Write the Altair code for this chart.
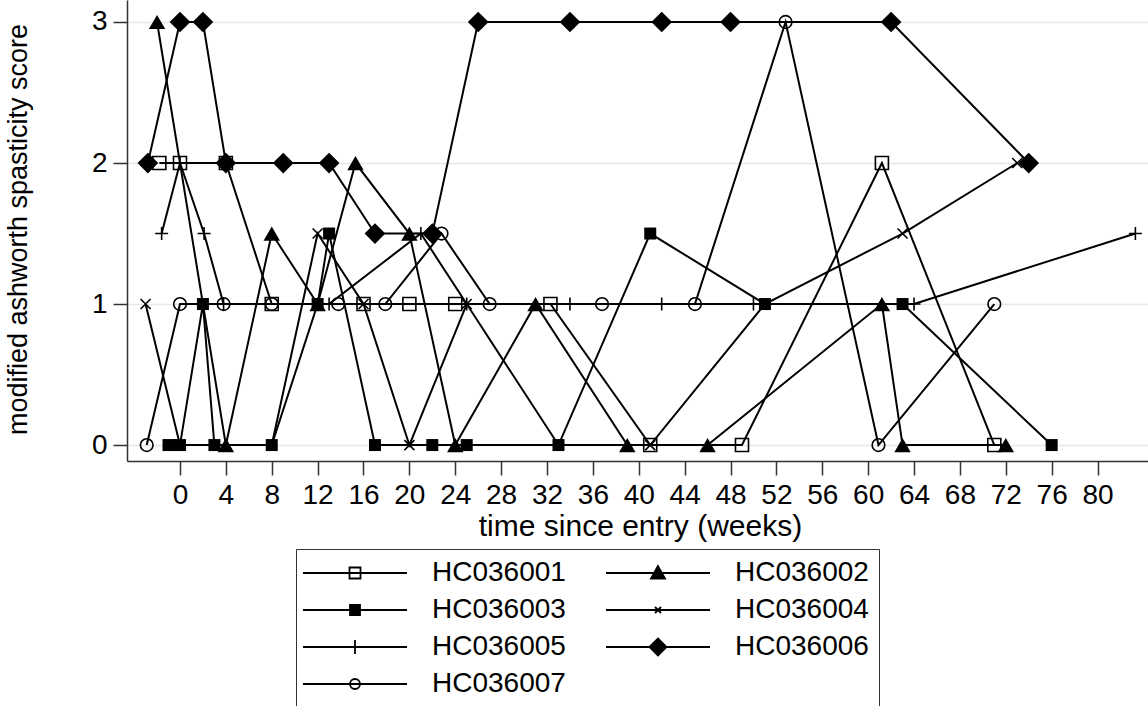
import altair as alt
import pandas as pd

# Visit times (weeks since entry) and modified Ashworth scores per patient
series_names = ["HC036001", "HC036002", "HC036003", "HC036004",
                "HC036005", "HC036006", "HC036007"]

t_001 = [-1.8, 0, 4, 8, 16, 20, 24, 32.3, 41, 49, 61.2, 71]
v_001 = [2, 2, 2, 1, 1, 1, 1, 1, 0, 0, 2, 0]

t_002 = [-2, 4, 8, 12, 15.3, 20, 24, 31, 39, 46, 61.2, 63, 72]
v_002 = [3, 0, 1.5, 1, 2, 1.5, 0, 1, 0, 0, 1, 0, 0]

t_003 = [-1, 0, 2, 3, 8, 12, 13, 17, 22, 25, 33, 41, 51, 63, 76]
v_003 = [0, 0, 1, 0, 0, 1, 1.5, 0, 0, 0, 0, 1.5, 1, 1, 0]

t_004 = [-3, 0, 3, 8, 12, 16, 20, 25, 33, 41, 51, 63, 73]
v_004 = [1, 0, 0, 0, 1.5, 1, 0, 1, 0, 0, 1, 1.5, 2]

t_005 = [-1.6, 0, 2.1, 3.8, 13, 21, 25, 34, 42, 50, 64, 83.3]
v_005 = [1.5, 2, 1.5, 1, 1, 1.5, 1, 1, 1, 1, 1, 1.5]

t_006 = [-2.8, 0, 2, 4, 9, 13, 17, 22, 26, 34, 42, 48, 62, 74]
v_006 = [2, 3, 3, 2, 2, 2, 1.5, 1.5, 3, 3, 3, 3, 3, 2]

t_007 = [-2.9, 0, 3.8, 8, 13.8, 17.9, 22.8, 27, 36.8, 44.9, 52.8, 60.9, 71]
v_007 = [0, 1, 1, 1, 1, 1, 1.5, 1, 1, 1, 3, 0, 1]

x_ticks = list(range(0, 81, 4))
y_ticks = [0, 1, 2, 3]

times = [t_001, t_002, t_003, t_004, t_005, t_006, t_007]
scores = [v_001, v_002, v_003, v_004, v_005, v_006, v_007]

rows = []
for name, ts, vs in zip(series_names, times, scores):
    for order, (t, v) in enumerate(zip(ts, vs)):
        rows.append({"series": name, "week": t, "score": v, "order": order})
df = pd.DataFrame(rows)

FONT = "Liberation Sans"

# Plot markers per patient: (shape, filled, size)
marker_styles = {
    "HC036001": ("square", False, 169),
    "HC036002": ("triangle-up", True, 270),
    "HC036003": ("square", True, 144),
    "HC036004": ("M-1,-1L1,1M-1,1L1,-1", False, 100),
    "HC036005": ("M0,-1L0,1M-1,0L1,0", False, 169),
    "HC036006": ("diamond", True, 430),
    "HC036007": ("circle", False, 160),
}

# Legend keys: connecting line with the marker drawn in its middle (pixel units)
LINE = "M-52,0L52,0"
legend_shapes = [
    LINE + "M-5.5,-5.5L5.5,-5.5L5.5,5.5L-5.5,5.5Z",
    LINE + "M0,-7L-7,5.5L7,5.5Z",
    LINE + "M-5,-5L5,-5L5,5L-5,5Z",
    LINE + "M-3,-3L3,3M-3,3L3,-3",
    LINE + "M0,-7L0,7",
    LINE + "M-8.5,0L0,-8.5L8.5,0L0,8.5Z",
    LINE + "M-5,0A5,5 0 1,0 5,0A5,5 0 1,0 -5,0",
]
legend_fills = ["transparent", "black", "black", "transparent",
                "transparent", "black", "transparent"]
legend_strokes = ["black"] * len(series_names)

x_enc = alt.X("week:Q",
              scale=alt.Scale(domain=[-4.62, 84.4], nice=False, zero=False),
              axis=alt.Axis(values=x_ticks, title="time since entry (weeks)",
                            grid=False, labelPadding=6, titleX=513, titleY=65,
                            titleBaseline="middle", titleAlign="center",
                            titleFontSize=30))
y_enc = alt.Y("score:Q",
              scale=alt.Scale(domain=[-0.113, 3.156], nice=False, zero=False),
              axis=alt.Axis(values=y_ticks, format="d",
                            title="modified ashworth spasticity score",
                            grid=True, labelPadding=6, titleX=-109, titleY=229,
                            titleBaseline="middle", titleAlign="center",
                            titleFontSize=27))

base = alt.Chart(df)

lines = base.mark_line(color="black", strokeWidth=2).encode(
    x=x_enc, y=y_enc, detail="series:N", order="order:Q"
)

point_layers = []
for name in series_names:
    shape, filled, size = marker_styles[name]
    point_layers.append(
        base.transform_filter(alt.datum.series == name).mark_point(
            shape=shape, filled=filled, size=size, opacity=1,
            color="black", strokeWidth=1.6,
        ).encode(x="week:Q", y="score:Q")
    )

legend_spec = alt.Legend(
    title=None, orient="none", legendX=169, legendY=549,
    columns=2, direction="horizontal",
    symbolSize=4, symbolStrokeWidth=1.8, symbolOpacity=1,
    symbolOffset=35, labelOffset=63,
    labelFont=FONT, labelFontSize=28, labelColor="black",
    labelLimit=0, columnPadding=36, rowPadding=9,
    padding=10, strokeColor="#333333",
)

legend_layer = base.mark_point(filled=True, strokeWidth=1.8, opacity=0).encode(
    x="week:Q", y="score:Q",
    shape=alt.Shape("series:N", scale=alt.Scale(domain=series_names, range=legend_shapes),
                    legend=legend_spec),
    fill=alt.Fill("series:N", scale=alt.Scale(domain=series_names, range=legend_fills),
                  legend=legend_spec),
    stroke=alt.Stroke("series:N", scale=alt.Scale(domain=series_names, range=legend_strokes),
                      legend=legend_spec),
)

chart = alt.layer(lines, *point_layers, legend_layer).properties(
    width=1021, height=461,
    autosize=alt.AutoSizeParams(type="none"),
    padding={"left": 127, "top": 0, "right": 0, "bottom": 245},
    background="white",
).configure_view(stroke=None).configure_axis(
    labelFont=FONT, titleFont=FONT, labelFontSize=28,
    labelColor="black", titleColor="black", titleFontWeight="normal",
    domainColor="#333333", domainWidth=1.5, tickColor="#333333", tickWidth=1.5,
    tickSize=14, gridColor="#e8e8e8", gridWidth=1.5,
)

chart.save("out.html", embed_options={"renderer": "svg", "actions": False})
